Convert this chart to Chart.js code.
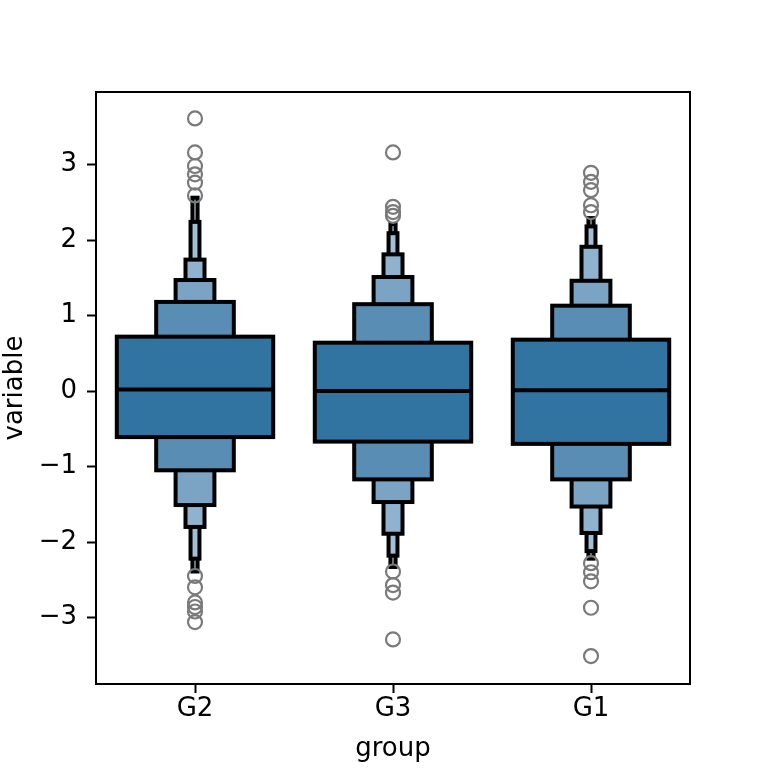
<!DOCTYPE html>
<html>
<head>
<meta charset="utf-8">
<script src="https://cdn.jsdelivr.net/npm/chart.js@4.4.1/dist/chart.umd.min.js"></script>
<style>
    html, body { margin: 0; padding: 0; background: #ffffff; }
    #chart { display: block; }
</style>
</head>
<body>
<canvas id="chart" width="768" height="768"></canvas>
<script>
// letter-value plot: one box per level, inner level first
const groups = ['G2', 'G3', 'G1'];
const yTicks = [-3, -2, -1, 0, 1, 2, 3];

const g2Upper = [0.72, 1.18, 1.47, 1.74, 2.24, 2.56];
const g2Lower = [-0.61, -1.05, -1.51, -1.80, -2.22, -2.39];
const g3Upper = [0.64, 1.15, 1.51, 1.81, 2.09, 2.21];
const g3Lower = [-0.67, -1.17, -1.47, -1.89, -2.18, -2.33];
const g1Upper = [0.68, 1.13, 1.46, 1.91, 2.18, 2.29];
const g1Lower = [-0.70, -1.17, -1.53, -1.88, -2.12, -2.22];

const medians = [0.02, 0.00, 0.01];

const g2Outliers = [3.61, 3.16, 2.98, 2.87, 2.76, 2.59, -2.45, -2.60, -2.80, -2.86, -2.92, -3.06];
const g3Outliers = [3.16, 2.44, 2.37, 2.32, -2.39, -2.57, -2.67, -3.29];
const g1Outliers = [2.89, 2.77, 2.66, 2.46, 2.37, -2.28, -2.40, -2.52, -2.87, -3.51];

// styling
const levelWidths = [0.79, 0.392, 0.196, 0.096, 0.045, 0.026];
const levelColors = ['#3274a1', '#5a8db3', '#7aa3c4', '#8fb2cf', '#a1bfd7', '#b3cbdf'];
const EDGE = 4;
const FONT = { family: 'DejaVu Sans', size: 26 };

const uppers = [g2Upper, g3Upper, g1Upper];
const lowers = [g2Lower, g3Lower, g1Lower];

const levelDatasets = levelWidths.map((w, k) => ({
    type: 'bar',
    data: groups.map((g, i) => [lowers[i][k], uppers[i][k]]),
    backgroundColor: levelColors[k],
    borderColor: '#000000',
    borderWidth: 0,
    grouped: false,
    barPercentage: w,
    categoryPercentage: 1
}));

const outlierPoints = [];
[g2Outliers, g3Outliers, g1Outliers].forEach((vals, i) => {
    vals.forEach(v => outlierPoints.push({ x: groups[i], y: v }));
});

const outlierDataset = {
    type: 'line',
    data: outlierPoints,
    showLine: false,
    pointStyle: 'circle',
    pointRadius: 7,
    pointBorderWidth: 2.2,
    pointBorderColor: '#7a7a7a',
    pointBackgroundColor: 'rgba(0,0,0,0)'
};

// bars drawn with the edge centred on the box limits (matplotlib style),
// median line across the main box, and the axes frame
const boxenExtras = {
    id: 'boxenExtras',
    beforeDatasetDraw(chart, args) {
        const meta = args.meta;
        if (meta.type !== 'bar') return;
        const ctx = chart.ctx;
        const ds = chart.data.datasets[args.index];
        ctx.save();
        ctx.lineWidth = EDGE;
        ctx.lineJoin = 'miter';
        ctx.strokeStyle = '#000000';
        ctx.fillStyle = ds.backgroundColor;
        meta.data.forEach(el => {
            const p = el.getProps(['x', 'y', 'base', 'width'], true);
            const left = p.x - p.width / 2;
            const top = Math.min(p.y, p.base);
            const h = Math.abs(p.base - p.y);
            ctx.fillRect(left, top, p.width, h);
            ctx.strokeRect(left, top, p.width, h);
        });
        ctx.restore();
        return false;
    },
    afterDatasetsDraw(chart) {
        const ctx = chart.ctx;
        const meta = chart.getDatasetMeta(1);
        const y = chart.scales.y;
        ctx.save();
        ctx.strokeStyle = '#000000';
        ctx.lineWidth = EDGE;
        meta.data.forEach((bar, i) => {
            const py = y.getPixelForValue(medians[i]);
            ctx.beginPath();
            ctx.moveTo(bar.x - bar.width / 2, py);
            ctx.lineTo(bar.x + bar.width / 2, py);
            ctx.stroke();
        });
        ctx.restore();
    },
    afterDraw(chart) {
        const a = chart.chartArea;
        const ctx = chart.ctx;
        ctx.save();
        ctx.strokeStyle = '#000000';
        ctx.lineWidth = 2;
        ctx.strokeRect(a.left, a.top, a.right - a.left, a.bottom - a.top);
        ctx.restore();
    }
};

new Chart(document.getElementById('chart'), {
    data: {
        labels: groups,
        datasets: [outlierDataset].concat(levelDatasets)
    },
    options: {
        responsive: false,
        animation: false,
        layout: { padding: { left: 0, top: 92, right: 78, bottom: 0 } },
        plugins: {
            legend: { display: false },
            tooltip: { enabled: false }
        },
        scales: {
            x: {
                type: 'category',
                offset: true,
                grid: { display: true, drawOnChartArea: false, offset: false, tickLength: 9, tickColor: '#000000', tickWidth: 2 },
                border: { display: false },
                ticks: { color: '#000000', font: FONT, padding: 1 },
                title: { display: true, text: 'group', color: '#000000', font: FONT, padding: { top: 0, bottom: 3 } },
                afterFit: (scale) => { scale.height = 84; }
            },
            y: {
                type: 'linear',
                min: -3.88,
                max: 3.96,
                afterBuildTicks: (scale) => { scale.ticks = yTicks.map(v => ({ value: v })); },
                grid: { display: true, drawOnChartArea: false, tickLength: 9, tickColor: '#000000', tickWidth: 2 },
                border: { display: false },
                ticks: {
                    color: '#000000',
                    font: FONT,
                    padding: 10,
                    callback: (v) => String(v).replace('-', '\u2212')
                },
                title: { display: true, text: 'variable', color: '#000000', font: FONT, padding: { top: 0, bottom: 0 } },
                afterFit: (scale) => { scale.width = 96; }
            }
        }
    },
    plugins: [boxenExtras]
});
</script>
</body>
</html>
